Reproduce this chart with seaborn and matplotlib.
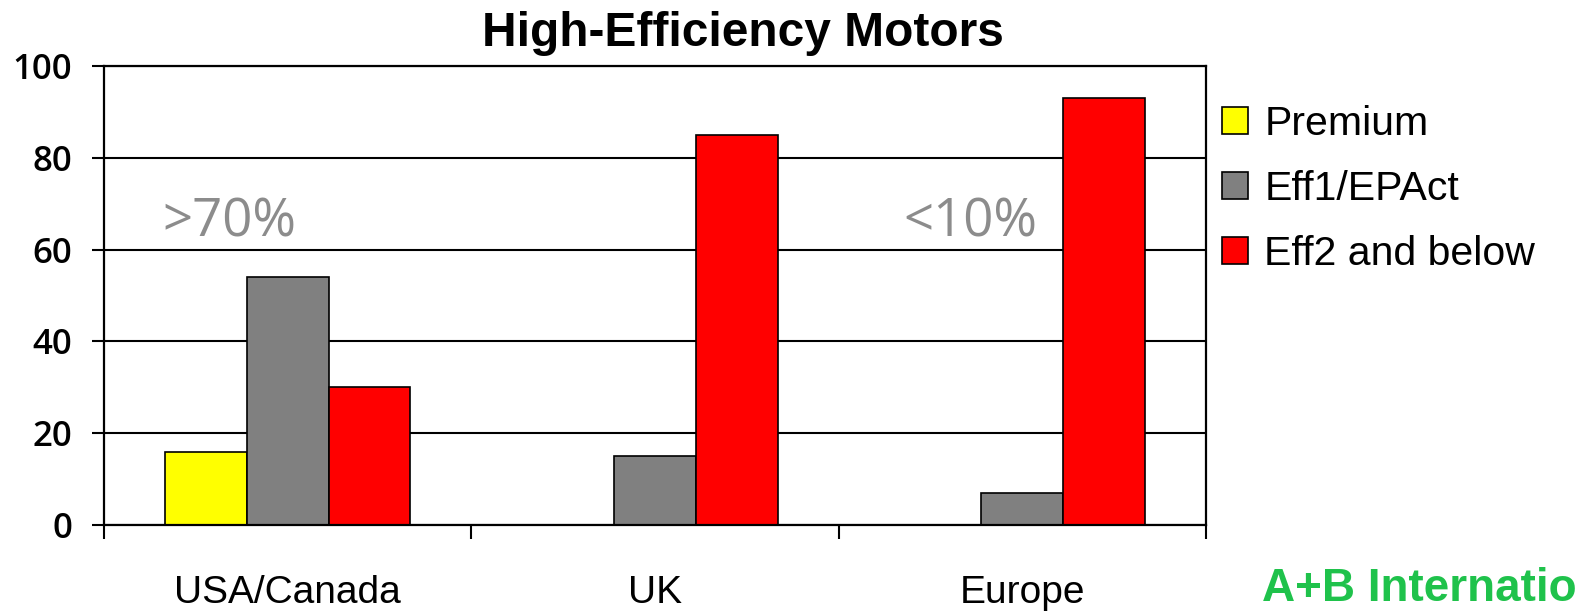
import pandas as pd
import numpy as np
import seaborn as sns
import matplotlib.pyplot as plt
from matplotlib.ticker import FixedLocator

# values (percent)
regions = ['USA/Canada', 'UK', 'Europe']
types = ['Premium', 'Eff1/EPAct', 'Eff2 and below']
premium = [16, 0, 0]
eff1 = [54, 15, 7]
eff2 = [30, 85, 93]
colors = ['#FFFF00', '#808080', '#FF0000']
notes = ['>70%', '<10%']
note_x = [-0.34, 1.675]

df = pd.DataFrame({
    'Region': regions * 3,
    'Type': [types[0]] * 3 + [types[1]] * 3 + [types[2]] * 3,
    'Share': premium + eff1 + eff2,
})

sns.set_style('white')
plt.rcParams['font.family'] = ['Liberation Sans', 'DejaVu Sans']
plt.rcParams['text.color'] = 'black'
plt.rcParams['xtick.color'] = 'black'
plt.rcParams['ytick.color'] = 'black'

fig = plt.figure(figsize=(15.94, 6.13), dpi=100)
ax = fig.add_axes([104 / 1594, 88 / 613, (1206 - 104) / 1594, (525 - 66) / 613])

sns.barplot(data=df, x='Region', y='Share', hue='Type', order=regions,
            hue_order=types, palette=colors, width=0.667, saturation=1,
            edgecolor='black', linewidth=1.2, ax=ax)

ax.set_xlim(-0.5, 2.5)
ax.set_ylim(0, 100)
ax.set_yticks([0, 20, 40, 60, 80, 100])
ax.yaxis.grid(True, color='black', linewidth=1.5)
ax.set_axisbelow(True)
for s in ax.spines.values():
    s.set_color('black')
    s.set_linewidth(1.6)

ax.set_xlabel('')
ax.set_ylabel('')
ax.tick_params(axis='y', length=9, width=1.5, direction='out',
               pad=14, left=True)
for lab in ax.get_yticklabels():
    lab.set_family('Open Sans')
    lab.set_fontweight('semibold')
    lab.set_fontsize(25)
ax.tick_params(axis='x', which='major', length=0, pad=36, labelsize=28)
ax.xaxis.set_minor_locator(FixedLocator([-0.5, 0.5, 1.5, 2.5]))
ax.tick_params(axis='x', which='minor', length=10, width=1.5,
               direction='out', bottom=True)

for t, x in zip(notes, note_x):
    ax.text(x, 62.8, t, color='#8C8C8C', fontsize=38, family='Open Sans',
            ha='left', va='baseline')

handles, labels = ax.get_legend_handles_labels()
ax.legend(handles, labels, loc='upper left', frameon=False,
          bbox_to_anchor=(1222 / 1594, 1 - 105 / 613), bbox_transform=fig.transFigure,
          fontsize=29.5, handlelength=0.63, handleheight=0.63, handletextpad=0.4,
          labelspacing=0.66, borderpad=0, borderaxespad=0)

fig.text(743 / 1594, 1 - 46 / 613, 'High-Efficiency Motors', ha='center',
         va='baseline', fontsize=34.5, fontweight='bold')
fig.text(1262 / 1594, 1 - 601 / 613, 'A+B Internatio', ha='left',
         va='baseline', fontsize=33, fontweight='bold', color='#1FC24B')

fig.savefig('out.png', dpi=100)
